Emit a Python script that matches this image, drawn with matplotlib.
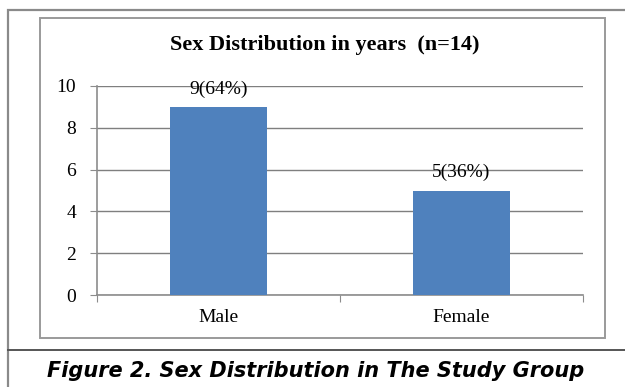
import matplotlib.pyplot as plt
from matplotlib.patches import Rectangle
from matplotlib.lines import Line2D

categories = ['Male', 'Female']
counts = [9, 5]
labels = ['9(64%)', '5(36%)']
yticks = [0, 2, 4, 6, 8, 10]

W, H = 625, 387
fig = plt.figure(figsize=(W / 100, H / 100), dpi=100)
fig.patch.set_facecolor('white')

def fx(px):
    return px / W

def fy(py):
    return 1 - py / H

# outer frame and caption separator
fig.add_artist(Rectangle((fx(8), fy(400)), fx(640) - fx(8), fy(10) - fy(400),
                         transform=fig.transFigure, fill=False, ec='#8a8a8a', lw=1.6))
fig.add_artist(Line2D([fx(8), 1], [fy(350), fy(350)], transform=fig.transFigure,
                      color='#555555', lw=1.4))
# inner chart frame
fig.add_artist(Rectangle((fx(40), fy(338)), fx(605) - fx(40), fy(18) - fy(338),
                         transform=fig.transFigure, fill=False, ec='#9a9a9a', lw=1.4))

ax = fig.add_axes([fx(97), fy(295), fx(583) - fx(97), fy(86) - fy(295)])
x = list(range(len(categories)))
ax.bar(x, counts, width=0.4, color='#4f81bd', zorder=3)
ax.set_xlim(-0.5, len(categories) - 0.5)
ax.set_ylim(0, 10)
ax.set_yticks(yticks)
ax.yaxis.grid(True, color='#7f7f7f', lw=1.0, zorder=0)
ax.set_axisbelow(True)

for s in ['top', 'right']:
    ax.spines[s].set_visible(False)
for s in ['left', 'bottom']:
    ax.spines[s].set_color('#8c8c8c')
    ax.spines[s].set_linewidth(1.2)

serif = 'Liberation Serif'
ax.set_xticks([-0.5, 0.5, 1.5])
ax.set_xticklabels([])
ax.set_xticks(x, minor=True)
ax.set_xticklabels(categories, minor=True, fontfamily=serif, fontsize=14)
ax.tick_params(axis='x', which='major', length=5, color='#8c8c8c', direction='out')
ax.tick_params(axis='x', which='minor', length=0, pad=10)
ax.tick_params(axis='y', length=5, color='#8c8c8c', pad=10)
for t in ax.get_yticklabels():
    t.set_fontfamily(serif)
    t.set_fontsize(14)

for xi, v, lab in zip(x, counts, labels):
    ax.annotate(lab, (xi, v), xytext=(0, 13), textcoords='offset points',
                ha='center', va='center', fontfamily=serif, fontsize=14, zorder=4)

fig.text(fx(325), fy(45), 'Sex Distribution in years  (n=14)', ha='center', va='center',
         fontfamily=serif, fontweight='bold', fontsize=16)

fig.text(fx(316), fy(371), 'Figure 2. Sex Distribution in The Study Group', ha='center',
         va='center', fontfamily='DejaVu Sans', fontweight='bold', fontstyle='italic',
         fontsize=15)

fig.savefig('out.png', dpi=100)
